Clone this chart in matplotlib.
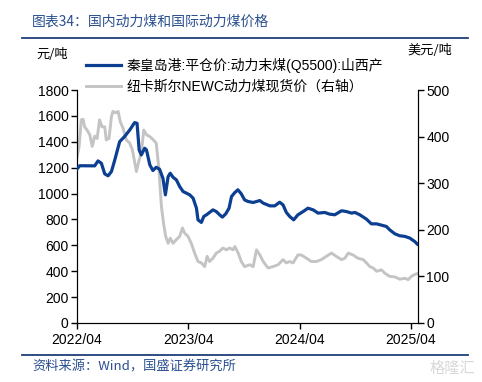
import numpy as np
import pandas as pd
import matplotlib
matplotlib.use("Agg")
import matplotlib.pyplot as plt
import matplotlib.dates as mdates

plt.rcParams['font.family'] = ['Liberation Sans', 'Noto Sans CJK SC', 'DejaVu Sans']

# 秦皇岛港 平仓价 动力末煤 Q5500 (元/吨)
qhd_dates = ['2022-04-01', '2022-04-10', '2022-05-29', '2022-06-09', '2022-06-20', '2022-07-01',
             '2022-07-12', '2022-07-23', '2022-08-03', '2022-08-19', '2022-09-04', '2022-09-21',
             '2022-10-07', '2022-10-15', '2022-10-22', '2022-10-29', '2022-11-09', '2022-11-15',
             '2022-11-26', '2022-12-06', '2022-12-17', '2022-12-28', '2023-01-08', '2023-01-16',
             '2023-01-25', '2023-02-01', '2023-02-10', '2023-02-21', '2023-03-04', '2023-03-15',
             '2023-03-26', '2023-04-06', '2023-04-17', '2023-04-28', '2023-05-03', '2023-05-14',
             '2023-05-22', '2023-05-31', '2023-06-10', '2023-06-21', '2023-07-02', '2023-07-13',
             '2023-07-22', '2023-08-02', '2023-08-13', '2023-08-21', '2023-09-01', '2023-09-11',
             '2023-09-22', '2023-10-03', '2023-10-14', '2023-10-31', '2023-11-22', '2023-12-03',
             '2023-12-25', '2024-01-10', '2024-01-26', '2024-02-06', '2024-02-17', '2024-02-28',
             '2024-03-12', '2024-03-26', '2024-04-12', '2024-04-28', '2024-05-15', '2024-05-31',
             '2024-06-22', '2024-07-08', '2024-07-25', '2024-08-16', '2024-09-01', '2024-09-18',
             '2024-09-29', '2024-10-15', '2024-11-06', '2024-11-22', '2024-12-09', '2024-12-25',
             '2025-01-10', '2025-01-21', '2025-02-07', '2025-02-23', '2025-03-12', '2025-03-28',
             '2025-04-13', '2025-04-22']
qhd_price = [1190, 1215, 1214, 1252, 1234, 1152,
             1137, 1170, 1260, 1401, 1440, 1491,
             1548, 1543, 1337, 1298, 1350, 1337,
             1221, 1178, 1203, 1188, 1118, 990,
             1131, 1157, 1126, 1106, 1054, 1016,
             1003, 990, 964, 887, 797, 777,
             823, 836, 854, 874, 861, 836,
             818, 843, 887, 977, 1008, 1029,
             998, 951, 939, 931, 946, 926,
             905, 905, 933, 913, 854, 823,
             797, 836, 861, 887, 874, 849,
             854, 841, 836, 867, 861, 849,
             854, 836, 802, 766, 766, 756,
             746, 720, 689, 674, 669, 656,
             630, 609]

# 纽卡斯尔 NEWC 动力煤现货价 (美元/吨), right axis
newc_dates = ['2022-04-01', '2022-04-08', '2022-04-15', '2022-04-21', '2022-04-26', '2022-05-04',
              '2022-05-13', '2022-05-21', '2022-05-29', '2022-06-06', '2022-06-14', '2022-06-22',
              '2022-07-01', '2022-07-06', '2022-07-15', '2022-07-23', '2022-07-28', '2022-08-06',
              '2022-08-14', '2022-08-21', '2022-08-30', '2022-09-10', '2022-09-21', '2022-09-30',
              '2022-10-07', '2022-10-13', '2022-10-22', '2022-10-29', '2022-11-06', '2022-11-15',
              '2022-11-26', '2022-12-06', '2022-12-17', '2022-12-26', '2023-01-03', '2023-01-10',
              '2023-01-17', '2023-01-25', '2023-02-01', '2023-02-10', '2023-02-21', '2023-03-04',
              '2023-03-13', '2023-03-20', '2023-03-31', '2023-04-11', '2023-04-22', '2023-05-03',
              '2023-05-14', '2023-05-25', '2023-06-02', '2023-06-10', '2023-06-21', '2023-07-02',
              '2023-07-13', '2023-07-24', '2023-08-04', '2023-08-15', '2023-08-26', '2023-09-01',
              '2023-09-12', '2023-09-22', '2023-10-03', '2023-10-20', '2023-10-31', '2023-11-11',
              '2023-11-22', '2023-12-03', '2023-12-19', '2024-01-04', '2024-01-21', '2024-02-06',
              '2024-02-17', '2024-02-28', '2024-03-10', '2024-03-26', '2024-04-06', '2024-04-23',
              '2024-05-09', '2024-05-26', '2024-06-11', '2024-06-27', '2024-07-14', '2024-07-30',
              '2024-08-16', '2024-08-27', '2024-09-07', '2024-09-23', '2024-10-09', '2024-10-26',
              '2024-11-06', '2024-11-17', '2024-11-28', '2024-12-09', '2024-12-25', '2025-01-05',
              '2025-01-21', '2025-02-07', '2025-02-23', '2025-03-12', '2025-03-23', '2025-04-02',
              '2025-04-13', '2025-04-22']
newc_price = [356, 379, 436, 437, 421, 414,
              404, 379, 401, 396, 436, 421,
              421, 393, 396, 443, 454, 451,
              454, 432, 418, 393, 386, 371,
              346, 325, 350, 364, 414, 404,
              400, 394, 386, 329, 250, 214,
              186, 171, 182, 171, 179, 186,
              204, 193, 186, 171, 150, 132,
              129, 121, 143, 132, 139, 150,
              154, 161, 157, 161, 157, 164,
              150, 132, 121, 125, 121, 157,
              146, 132, 118, 121, 125, 136,
              129, 132, 129, 146, 146, 139,
              132, 132, 136, 143, 150, 143,
              136, 139, 150, 146, 139, 136,
              129, 121, 118, 111, 114, 107,
              100, 99, 94, 96, 93, 100,
              104, 106]

tick_dates = ['2022-04-01', '2023-04-01', '2024-04-01', '2025-04-01']

blue = '#0c3f92'
grey = '#c4c4c4'
title_blue = '#2a4f8f'

fig = plt.figure(figsize=(4.82, 3.82), dpi=100)
ax = fig.add_axes([77 / 482, 1 - 323 / 382, (418 - 77) / 482, (323 - 90) / 382])
ax2 = ax.twinx()

l1, = ax.plot(pd.to_datetime(qhd_dates), qhd_price, color=blue, lw=2.3, zorder=3,
              label='秦皇岛港:平仓价:动力末煤(Q5500):山西产')
l2, = ax2.plot(pd.to_datetime(newc_dates), newc_price, color=grey, lw=2.1,
               label='纽卡斯尔NEWC动力煤现货价（右轴）')
ax.set_zorder(ax2.get_zorder() + 1)
ax.patch.set_visible(False)

ax.set_ylim(0, 1800)
ax.set_yticks(np.arange(0, 1801, 200))
ax2.set_ylim(0, 500)
ax2.set_yticks(np.arange(0, 501, 100))
ax.set_xlim(pd.Timestamp('2022-04-01'), pd.Timestamp('2025-04-24'))
ax.set_xticks(pd.to_datetime(tick_dates))
ax.xaxis.set_major_formatter(mdates.DateFormatter('%Y/%m'))

for a in (ax, ax2):
    a.spines['top'].set_visible(False)
    a.tick_params(labelsize=10, length=4, width=1, direction='out', pad=2)
ax.tick_params(axis='x', pad=3)

fig.legend(handles=[l1, l2], loc='upper left', bbox_to_anchor=(86 / 482, 1 - 58 / 382),
           frameon=False, fontsize=10, handlelength=2.5, handletextpad=0.4,
           labelspacing=0.5, borderpad=0, borderaxespad=0)

fig.text(36 / 482, 1 - 55 / 382, '元/吨', fontsize=9.5, ha='left', va='center',
         family=['Noto Sans CJK SC'])
fig.text(452 / 482, 1 - 50 / 382, '美元/吨', fontsize=9.5, ha='right', va='center',
         family=['Noto Sans CJK SC'])

fig.text(32 / 482, 1 - 22 / 382, '图表34：国内动力煤和国际动力煤价格', fontsize=10,
         color=title_blue, ha='left', va='center', style='italic',
         family=['Noto Sans CJK SC', 'DejaVu Sans'])
fig.text(32 / 482, 1 - 367 / 382, '资料来源：Wind，国盛证券研究所', fontsize=9.5,
         color=title_blue, ha='left', va='center', style='italic',
         family=['Noto Sans CJK SC', 'DejaVu Sans'])
fig.text(475 / 482, 1 - 368 / 382, '格隆汇', fontsize=11, color='#d8d8d8',
         ha='right', va='center', family=['Noto Sans CJK SC'])

fig.add_artist(plt.Line2D([22 / 482, 468 / 482], [1 - 38 / 382, 1 - 38 / 382],
                          color='#1f3f78', lw=1.3))
fig.add_artist(plt.Line2D([22 / 482, 468 / 482], [1 - 355 / 382, 1 - 355 / 382],
                          color='#1f3f78', lw=1.3))

fig.savefig('out.png', dpi=100)
